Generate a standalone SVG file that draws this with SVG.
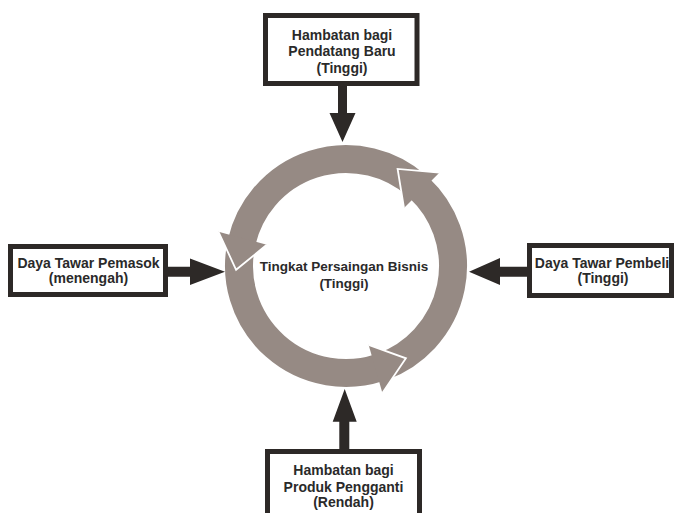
<svg xmlns="http://www.w3.org/2000/svg" width="674" height="513" viewBox="0 0 674 513">
<style>
.box{fill:#ffffff;stroke:#2d2927;stroke-width:5}
.t{font-family:"Liberation Sans",Arial,sans-serif;font-weight:bold;font-size:14px;fill:#2a2a2a;text-anchor:middle}
.tc{font-size:13.5px}
.ring{fill:none;stroke:#968a84;stroke-width:28;stroke-linecap:butt}
.head{fill:#968a84}
.edge{fill:none;stroke:#ffffff;stroke-width:1.8;stroke-linejoin:miter}
.conn{fill:#2d2927}
</style>
<rect width="674" height="513" fill="#ffffff"/>
<g id="cycle">
<path class="ring" d="M382.6 366.55 A107 107 0 0 0 418.97 187.74"/>
<path class="ring" d="M416.2 185.25 A107 107 0 0 0 241.74 241.93"/>
<path class="ring" d="M240.97 245.58 A107 107 0 0 0 379.06 367.77"/>
<polygon class="head" points="439.3,172.7 397.6,168.9 404.0,208.0"/>
<path class="edge" d="M439.3 172.7 L397.6 168.9 L404.0 208.0"/>
<polygon class="head" points="218.5,231.8 236.1,269.8 266.8,244.8"/>
<path class="edge" d="M218.5 231.8 L236.1 269.8 L266.8 244.8"/>
<polygon class="head" points="382.4,392.9 405.9,358.3 368.6,344.8"/>
<path class="edge" d="M382.4 392.9 L405.9 358.3 L368.6 344.8"/>
<text class="t tc" x="344" y="271">Tingkat Persaingan Bisnis</text>
<text class="t tc" x="344" y="288">(Tinggi)</text>
</g>
<g id="connectors">
<polygon class="conn" points="338,84 347,84 347,113 355.5,113 342.5,142 329.5,113 338,113"/>
<polygon class="conn" points="165,266.7 190,266.7 190,258.5 225,271.7 190,285 190,276.7 165,276.7"/>
<polygon class="conn" points="531,266.7 500,266.7 500,258 469,271.7 500,285 500,276.7 531,276.7"/>
<polygon class="conn" points="339.3,451 339.3,421.7 332.7,421.7 344.7,389 356.7,421.7 349.3,421.7 349.3,451"/>
</g>
<g id="top">
<rect class="box" x="265.5" y="15.5" width="151.5" height="68"/>
<text class="t" x="342" y="39.5">Hambatan bagi</text>
<text class="t" x="342" y="56">Pendatang Baru</text>
<text class="t" x="342" y="72.5">(Tinggi)</text>
</g>
<g id="left">
<rect class="box" x="10.5" y="246.5" width="155" height="48"/>
<text class="t" x="88.5" y="268">Daya Tawar Pemasok</text>
<text class="t" x="88.5" y="283">(menengah)</text>
</g>
<g id="right">
<rect class="box" x="529.5" y="245.5" width="142" height="50"/>
<text class="t" x="602" y="268">Daya Tawar Pembeli</text>
<text class="t" x="603" y="283">(Tinggi)</text>
</g>
<g id="bottom">
<rect class="box" x="267.5" y="451.5" width="152" height="80"/>
<text class="t" x="343.5" y="475">Hambatan bagi</text>
<text class="t" x="343.5" y="491.5">Produk Pengganti</text>
<text class="t" x="343.5" y="507">(Rendah)</text>
</g>
</svg>
